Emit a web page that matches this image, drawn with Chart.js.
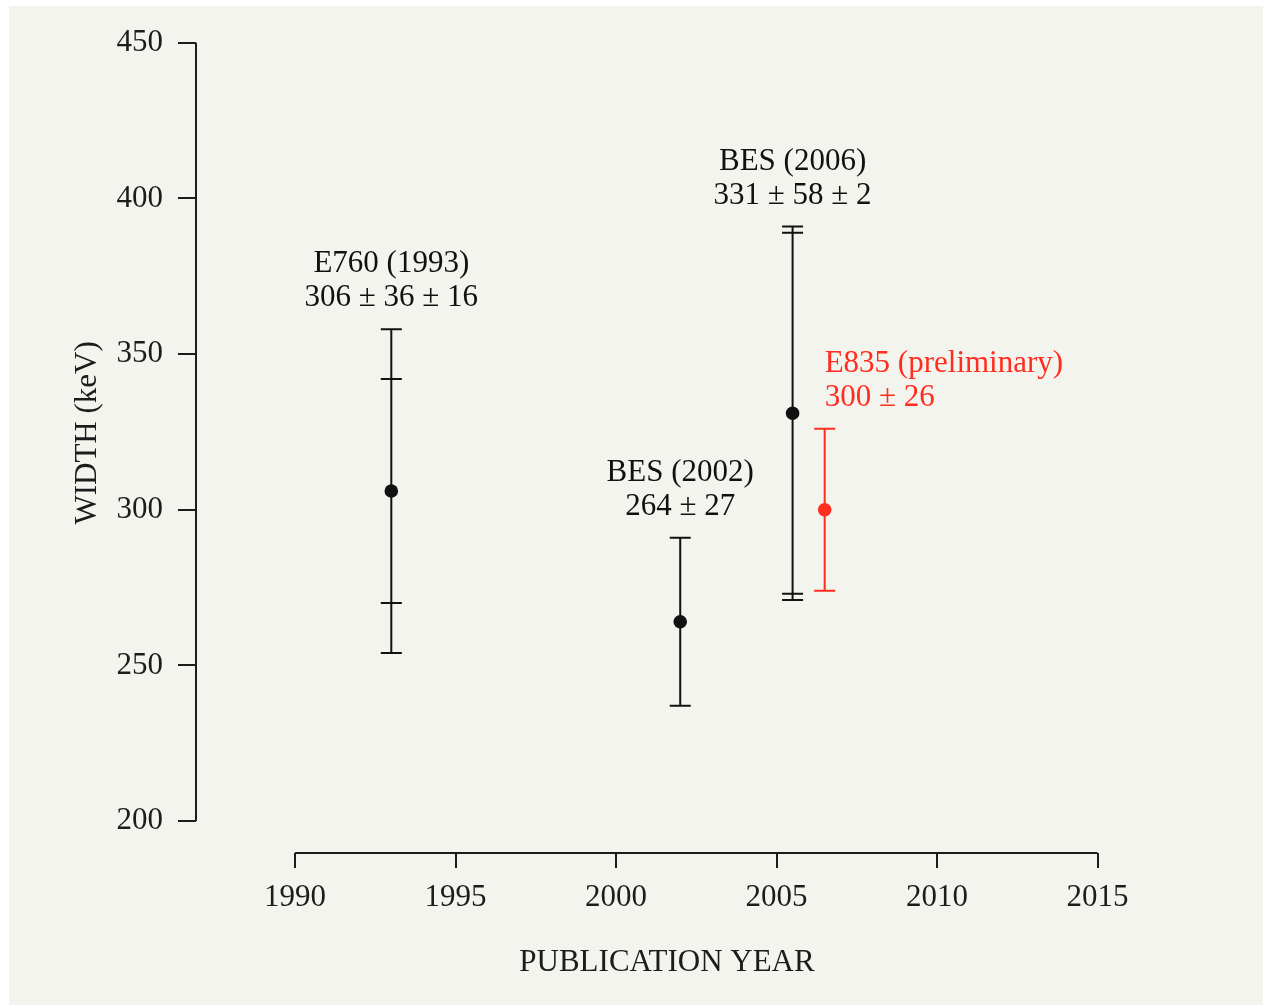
<!DOCTYPE html>
<html>
<head>
<meta charset="utf-8">
<title>Width vs publication year</title>
<script src="https://cdn.jsdelivr.net/npm/chart.js@4/dist/chart.umd.min.js"></script>
<style>
  html, body { margin: 0; padding: 0; background: #ffffff; }
  #panel {
    position: absolute; left: 9px; top: 6px;
    width: 1254px; height: 999px;
    background: #f4f4ef;
  }
</style>
</head>
<body>
<div id="panel"><canvas id="chart"></canvas></div>
<script>
// ── measurements ────────────────────────────────────────────────
var names   = ['E760 (1993)', 'BES (2002)', 'BES (2006)', 'E835 (preliminary)'];
var years   = [1993, 2002, 2005.5, 2006.5];
var widths  = [306, 264, 331, 300];
var statErr = [36, 27, 58, 26];
var sysErr  = [16, 0, 2, 0];
var colors  = ['#111111', '#111111', '#111111', '#ff2d1f'];
var labelAlign = ['center', 'center', 'center', 'left'];

var xTicks = [1990, 1995, 2000, 2005, 2010, 2015];
var yTicks = [200, 250, 300, 350, 400, 450];

var INK = '#1c1c1c';
var FONT = '"Liberation Serif", "Times New Roman", serif';

function valueText(i) {
    var s = widths[i] + ' \u00B1 ' + statErr[i];
    if (sysErr[i]) s += ' \u00B1 ' + sysErr[i];
    return s;
}

// R-style detached axis lines, spanning only the first..last tick
var axisLines = {
    id: 'axisLines',
    afterDraw: function (chart) {
        var ctx = chart.ctx, x = chart.scales.x, y = chart.scales.y;
        var area = chart.chartArea;
        ctx.save();
        ctx.strokeStyle = INK;
        ctx.lineWidth = 2;
        ctx.beginPath();
        ctx.moveTo(area.left, y.getPixelForValue(yTicks[0]));
        ctx.lineTo(area.left, y.getPixelForValue(yTicks[yTicks.length - 1]));
        ctx.moveTo(x.getPixelForValue(xTicks[0]), area.bottom);
        ctx.lineTo(x.getPixelForValue(xTicks[xTicks.length - 1]), area.bottom);
        ctx.stroke();
        ctx.restore();
    }
};

// error bars (stat inner caps, stat+sys outer caps) and the text above each
var errorBars = {
    id: 'errorBars',
    beforeDatasetsDraw: function (chart) {
        var ctx = chart.ctx, x = chart.scales.x, y = chart.scales.y;
        var cap = 10.5;
        ctx.save();
        ctx.lineWidth = 2;
        for (var i = 0; i < years.length; i++) {
            var px = x.getPixelForValue(years[i]);
            var tot = statErr[i] + sysErr[i];
            var yTop = y.getPixelForValue(widths[i] + tot);
            var yBot = y.getPixelForValue(widths[i] - tot);
            ctx.strokeStyle = colors[i];
            ctx.beginPath();
            ctx.moveTo(px, yTop); ctx.lineTo(px, yBot);
            ctx.moveTo(px - cap, yTop); ctx.lineTo(px + cap, yTop);
            ctx.moveTo(px - cap, yBot); ctx.lineTo(px + cap, yBot);
            if (sysErr[i]) {
                var yIn1 = y.getPixelForValue(widths[i] + statErr[i]);
                var yIn2 = y.getPixelForValue(widths[i] - statErr[i]);
                ctx.moveTo(px - cap, yIn1); ctx.lineTo(px + cap, yIn1);
                ctx.moveTo(px - cap, yIn2); ctx.lineTo(px + cap, yIn2);
            }
            ctx.stroke();

            ctx.fillStyle = colors[i];
            ctx.font = '31px ' + FONT;
            ctx.textAlign = labelAlign[i];
            ctx.textBaseline = 'middle';
            ctx.fillText(names[i], px, yTop - 65);
            ctx.fillText(valueText(i), px, yTop - 31);
        }
        ctx.restore();
    }
};

var points = years.map(function (yr, i) { return { x: yr, y: widths[i] }; });

new Chart(document.getElementById('chart'), {
    type: 'scatter',
    data: {
        datasets: [{
            data: points,
            pointRadius: 6.8,
            pointHoverRadius: 6.8,
            pointBackgroundColor: colors,
            pointBorderColor: colors,
            pointBorderWidth: 0
        }]
    },
    options: {
        responsive: true,
        maintainAspectRatio: false,
        animation: false,
        layout: { padding: { left: 0, top: 2, right: 125, bottom: 0 } },
        plugins: { legend: { display: false }, tooltip: { enabled: false } },
        scales: {
            x: {
                type: 'linear',
                min: 1986.916,
                max: 2016.26,
                afterBuildTicks: function (s) { s.ticks = xTicks.map(function (v) { return { value: v }; }); },
                afterFit: function (s) { s.height = 152; s.paddingLeft = 0; s.paddingRight = 0; },
                border: { display: false },
                grid: { drawOnChartArea: false, drawTicks: true, tickLength: 15, color: INK, lineWidth: 2 },
                ticks: { color: INK, padding: 11, maxRotation: 0, font: { family: FONT, size: 31 },
                         callback: function (v) { return String(v); } },
                title: { display: true, text: 'PUBLICATION YEAR', color: INK,
                         font: { family: FONT, size: 31 }, padding: { top: 0, bottom: 24 } }
            },
            y: {
                type: 'linear',
                min: 189.73,
                max: 459.63,
                afterBuildTicks: function (s) { s.ticks = yTicks.map(function (v) { return { value: v }; }); },
                afterFit: function (s) { s.width = 187; s.paddingTop = 0; s.paddingBottom = 0; },
                border: { display: false },
                grid: { drawOnChartArea: false, drawTicks: true, tickLength: 18, color: INK, lineWidth: 2 },
                ticks: { color: INK, padding: 15, font: { family: FONT, size: 31 },
                         callback: function (v) { return String(v); } },
                title: { display: true, text: 'WIDTH (keV)', color: INK,
                         font: { family: FONT, size: 31 }, padding: { top: 60, bottom: 0 } }
            }
        }
    },
    plugins: [axisLines, errorBars]
});
</script>
</body>
</html>
